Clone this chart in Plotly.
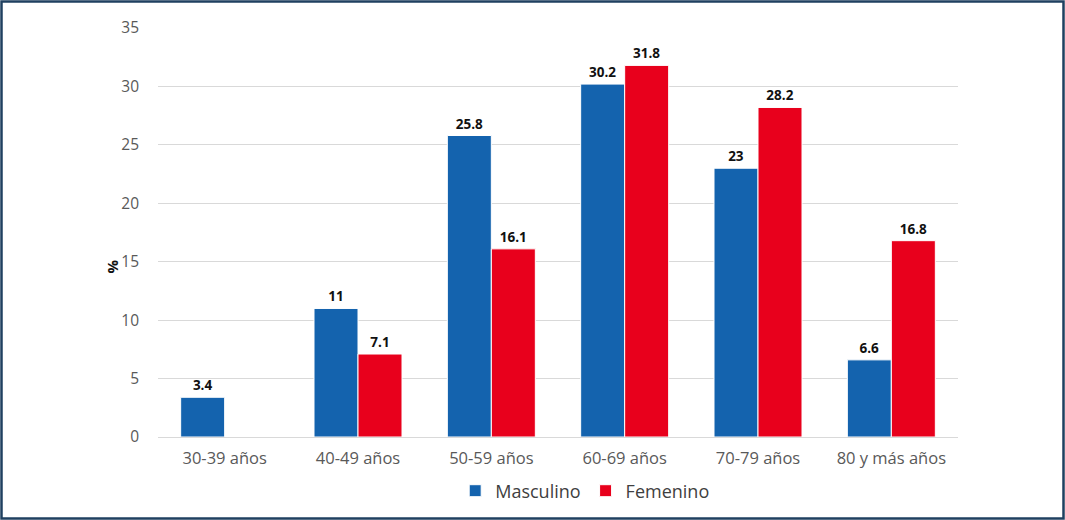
import plotly.graph_objects as go

categories = ["30-39 años", "40-49 años", "50-59 años", "60-69 años", "70-79 años", "80 y más años"]
masculino = [3.4, 11, 25.8, 30.2, 23, 6.6]
femenino = [None, 7.1, 16.1, 31.8, 28.2, 16.8]
y_ticks = [0, 5, 10, 15, 20, 25, 30, 35]

def labels(vals):
    return ["" if v is None else f"{v:g}" for v in vals]

L, R, T, B = 158, 107, 28, 83
W, H = 1065, 520
PW, PH = W - L - R, H - T - B

fig = go.Figure()
fig.add_trace(go.Bar(
    x=categories, y=masculino, name="Masculino",
    marker=dict(color="#1463AE", line=dict(color="white", width=1)),
    text=labels(masculino), textposition="outside", cliponaxis=False,
    textfont=dict(family="Open Sans", size=13.5, color="#111111", weight="bold"),
))
fig.add_trace(go.Bar(
    x=categories, y=femenino, name="Femenino",
    marker=dict(color="#E8001C", line=dict(color="white", width=1)),
    text=labels(femenino), textposition="outside", cliponaxis=False,
    textfont=dict(family="Open Sans", size=13.5, color="#111111", weight="bold"),
))

fig.update_layout(
    width=W, height=H,
    paper_bgcolor="white", plot_bgcolor="white",
    margin=dict(l=L, r=R, t=T, b=B, autoexpand=False),
    barmode="group", bargap=0.34, bargroupgap=0.0,
    font=dict(family="Open Sans", size=15, color="#595959"),
    showlegend=True,
    legend=dict(orientation="h", x=0.534, xanchor="center", y=-0.132, yanchor="middle",
                bgcolor="rgba(0,0,0,0)", itemwidth=30,
                font=dict(family="Open Sans", size=18, color="#404040")),
)
fig.update_xaxes(showgrid=False, showline=True, linecolor="#D9D9D9", linewidth=1,
                 ticks="", ticklabelstandoff=6, tickfont=dict(size=16.5, color="#595959"))
fig.update_yaxes(range=[0, 35], tickvals=y_ticks, showgrid=True, gridcolor="#D9D9D9",
                 gridwidth=1, zeroline=False, showline=False, ticks="",
                 ticklabelstandoff=18, tickfont=dict(size=15.5, color="#595959"))

# y-axis title "%" placed beside the 15 tick as in the reference
fig.add_annotation(text="<b>%</b>", xref="paper", yref="y", x=(112 - L) / PW, y=14.6,
                   xanchor="center", yanchor="middle", textangle=-90, showarrow=False,
                   font=dict(family="Open Sans", size=15, color="#111111"))

# outer border of the image
inset = 1.5
fig.add_shape(type="rect", xref="paper", yref="paper",
              x0=(-L + inset) / PW, x1=1 + (R - inset) / PW,
              y0=(-B + inset) / PH, y1=1 + (T - inset) / PH,
              line=dict(color="#1F4060", width=2.5), fillcolor="rgba(0,0,0,0)", layer="above")

fig.write_html("out.html", config={"displayModeBar": False},
               post_script="document.body.style.margin='0px';")
